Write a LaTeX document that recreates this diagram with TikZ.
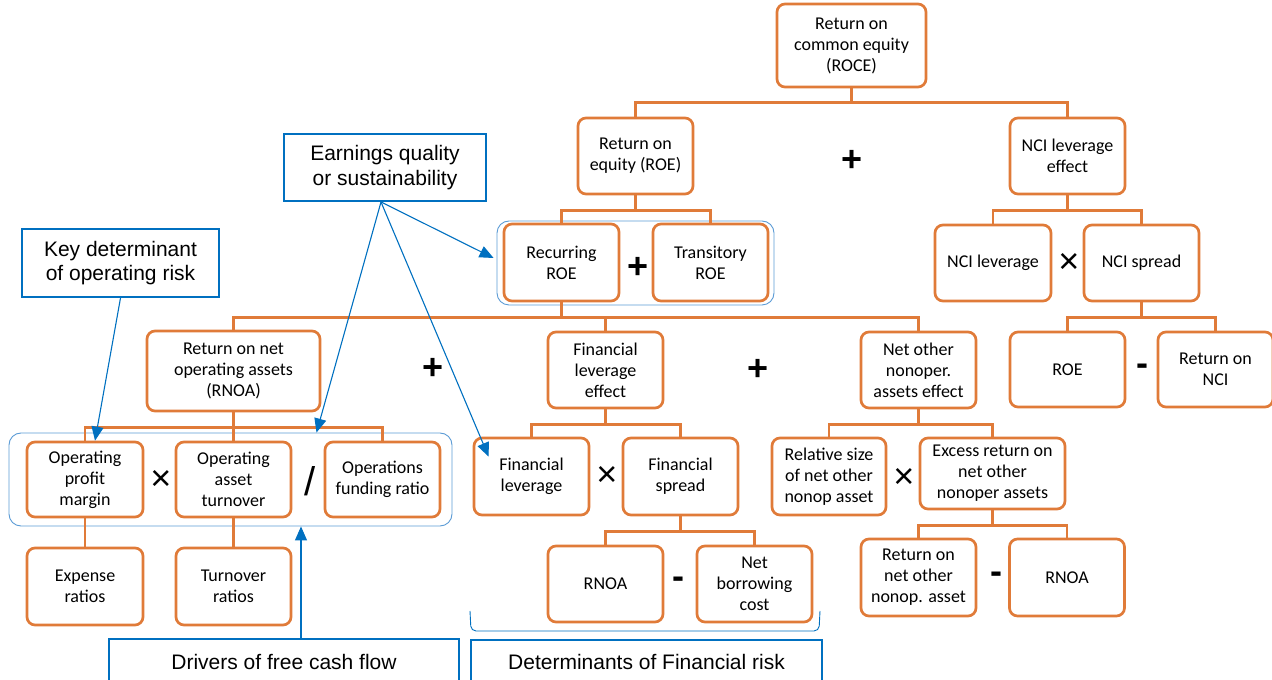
\documentclass[tikz,border=0pt]{standalone}
\usepackage{fontspec}
\setmainfont{Carlito}
\newfontfamily\arialfont{Liberation Sans}
\usetikzlibrary{arrows.meta, positioning, calc}
\definecolor{boxorange}{HTML}{E07B39}
\definecolor{noteblue}{HTML}{0070C0}
\definecolor{grpblue}{HTML}{5B9BD5}

\begin{document}
\begin{tikzpicture}[x=1pt, y=1pt,
    box/.style={draw=boxorange, line width=2.7pt, rounded corners=8pt, fill=white, align=center,
      minimum width=115pt, minimum height=76pt, inner sep=0pt, font=\fontsize{18}{21}\selectfont},
    note/.style={draw=noteblue, line width=2pt, fill=white, align=center, inner sep=0pt,
      font=\arialfont\fontsize{21}{24.5}\selectfont},
    grp/.style={draw=grpblue, line width=0.9pt, rounded corners=12pt, inner sep=0pt},
    link/.style={draw=boxorange, line width=2.7pt},
    pointer/.style={draw=noteblue, line width=1.1pt, -{Triangle[length=14pt,width=12pt]}},
    op/.style={inner sep=0pt, font=\arialfont\bfseries\fontsize{36}{36}\selectfont},
    thinop/.style={inner sep=0pt, font=\arialfont\fontsize{36}{36}\selectfont}]
  \useasboundingbox (0,0) rectangle (1272,680);
  \clip (0,0) rectangle (1272,680);

  \node[grp, minimum width=277pt, minimum height=84pt] (grproe) at (635.5,417) {};
  \node[grp, minimum width=443pt, minimum height=93pt] (grprnoa) at (230.5,200.5) {};

  \node[box, minimum width=149pt, minimum height=83pt] (roce) at (851.5,634.5) {Return on\\common equity\\(ROCE)};
  \node[box] (roe) at (635.5,524) {Return on\\equity (ROE)};
  \node[box] (ncieff) at (1067.5,524) {NCI leverage\\effect};
  \node[op] (plusa) at (852,519) {+};

  \node[box, minimum height=77pt] (rec) at (561.5,417.5) {Recurring\\ROE};
  \node[box, minimum height=77pt] (tra) at (710.5,417.5) {Transitory\\ROE};
  \node[op] (plusb) at (638,412) {+};
  \node[box, minimum width=116pt] (ncilev) at (993,417) {NCI leverage};
  \node[box] (ncispr) at (1141.5,417) {NCI spread};
  \node[thinop] (timesa) at (1069,417) {×};
  \node[box, minimum height=75pt] (roeb) at (1067.5,310.5) {ROE};
  \node[box, minimum height=75pt] (retnci) at (1215.5,310.5) {Return on\\NCI};
  \node[op] (minusa) at (1142,310) {-};

  \node[box, minimum width=173pt, minimum height=80pt] (rnoa) at (233.5,309) {Return on net\\operating assets\\(RNOA)};
  \node[box] (fle) at (605.5,310) {Financial\\leverage\\effect};
  \node[box] (noe) at (918.5,310) {Net other\\nonoper.\\assets effect};
  \node[op] (plusc) at (433,311) {+};
  \node[op] (plusd) at (758,310) {+};

  \node[box, minimum width=116pt, minimum height=75pt] (opm) at (85,200.5) {Operating\\profit\\margin};
  \node[box, minimum height=75pt] (oat) at (233.5,200.5) {Operating\\asset\\turnover};
  \node[box, minimum height=75pt] (ofr) at (382.5,200.5) {Operations\\funding ratio};
  \node[thinop] (timesb) at (161,200) {×};
  \node[thinop, font=\arialfont\fontsize{40}{40}\selectfont] (slash) at (310,199) {/};
  \node[box, minimum width=116pt, minimum height=77pt] (expr) at (85,93.5) {Expense\\ratios};
  \node[box, minimum height=77pt] (turn) at (233.5,93.5) {Turnover\\ratios};

  \node[box, minimum height=77pt] (fl) at (531.5,203.5) {Financial\\leverage};
  \node[box, minimum height=77pt] (fs) at (680.5,203.5) {Financial\\spread};
  \node[thinop] (timesc) at (607,204) {×};
  \node[box] (rnoab) at (605.5,96) {RNOA};
  \node[box] (nbc) at (754.5,96) {Net\\borrowing\\cost};
  \node[op] (minusb) at (678,97) {-};

  \node[box, minimum width=114pt, minimum height=77pt] (rsize) at (829,203.5) {Relative size\\of net other\\nonop asset};
  \node[box, minimum width=145pt, minimum height=71pt] (exret) at (992.5,206.5) {Excess return on\\net other\\nonoper assets};
  \node[thinop] (timesd) at (904,202) {×};
  \node[box, minimum height=77pt] (rnn) at (918.5,102.5) {Return on\\net other\\nonop. asset};
  \node[box, minimum height=77pt] (rnoac) at (1067,102.5) {RNOA};
  \node[op] (minusc) at (996,102) {-};

  \node[note, minimum width=202pt, minimum height=67pt] (eq) at (385,512.5) {Earnings quality\\or sustainability};
  \node[note, minimum width=197pt, minimum height=68pt] (kd) at (120.5,417) {Key determinant\\of operating risk};
  \node[note, minimum width=350pt, minimum height=46pt] (dfcf) at (284,18) {Drivers of free cash flow};
  \node[note, minimum width=351pt, minimum height=44pt] (dfr) at (646.5,18) {Determinants of Financial risk};

  \draw[link] (roce.south) -- ++(0,-14) -| (roe.north);
  \draw[link] (roce.south) -- ++(0,-14) -| (ncieff.north);
  \draw[link] (roe.south) -- ++(0,-15) -| (rec.north);
  \draw[link] (roe.south) -- ++(0,-15) -| (tra.north);
  \draw[link] (ncieff.south) -- ++(0,-15) -| (ncilev.north);
  \draw[link] (ncieff.south) -- ++(0,-15) -| (ncispr.north);
  \draw[link] (ncispr.south) -- ++(0,-15) -| (roeb.north);
  \draw[link] (ncispr.south) -- ++(0,-15) -| (retnci.north);
  \draw[link] (rec.south) -- ++(0,-15) -| (rnoa.north);
  \draw[link] (rec.south) -- ++(0,-15) -| (fle.north);
  \draw[link] (rec.south) -- ++(0,-15) -| (noe.north);
  \draw[link] (rnoa.south) -- ++(0,-15) -| (opm.north);
  \draw[link] (rnoa.south) -- ++(0,-15) -| (oat.north);
  \draw[link] (rnoa.south) -- ++(0,-15) -| (ofr.north);
  \draw[link] (opm.south) -- (expr.north);
  \draw[link] (oat.south) -- (turn.north);
  \draw[link] (fle.south) -- ++(0,-15) -| (fl.north);
  \draw[link] (fle.south) -- ++(0,-15) -| (fs.north);
  \draw[link] (fs.south) -- ++(0,-15) -| (rnoab.north);
  \draw[link] (fs.south) -- ++(0,-15) -| (nbc.north);
  \draw[link] (noe.south) -- ++(0,-15) -| (rsize.north);
  \draw[link] (noe.south) -- ++(0,-15) -| (exret.north);
  \draw[link] (exret.south) -- ++(0,-15) -| (rnn.north);
  \draw[link] (exret.south) -- ++(0,-15) -| (rnoac.north);

  \draw[draw=noteblue, line width=0.9pt, rounded corners=5pt] (470,69) -- (471,49) -- (819,49) -- (820,69);

  \draw[pointer] ([xshift=-4pt]eq.south) -- ([xshift=-3pt,yshift=5pt]grproe.west);
  \draw[pointer] ([xshift=-4pt]eq.south) -- ([xshift=86pt]grprnoa.north);
  \draw[pointer] ([xshift=-4pt]eq.south) -- ([xshift=16pt,yshift=-20pt]fl.north west);
  \draw[pointer] (kd.south) -- ([xshift=10pt]opm.north);
  \draw[pointer] ([xshift=17pt]dfcf.north) -- ([xshift=17pt]dfcf.north |- grprnoa.south);
\end{tikzpicture}
\end{document}
